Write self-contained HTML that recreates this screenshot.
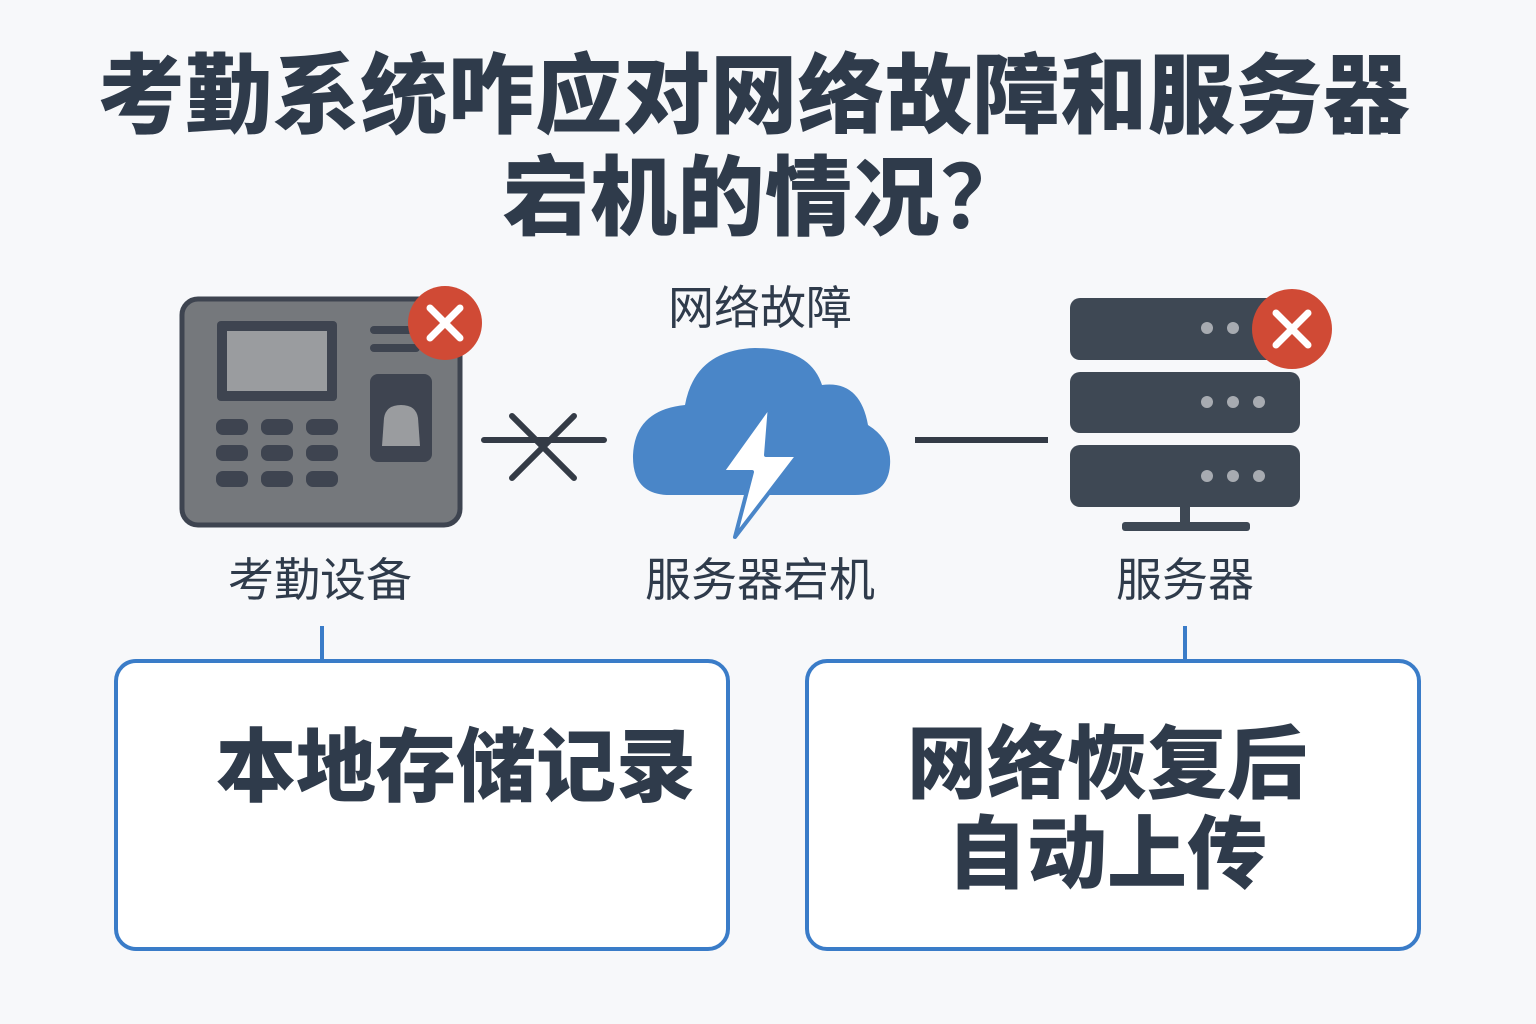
<!DOCTYPE html>
<html><head><meta charset="utf-8"><style>
body{margin:0;background:#f7f8fa;}
.wrap{position:relative;width:1536px;height:1024px;overflow:hidden;background:#f7f8fa;font-family:"Liberation Sans","Noto Sans CJK SC",sans-serif;color:#2f3b4b;}
.t{position:absolute;white-space:nowrap;text-align:center;}
.title{font-weight:900;font-size:87px;line-height:1;letter-spacing:0.5px;}
.lab{font-size:46px;line-height:1;color:#2f3b4b;}
.big{font-weight:900;font-size:80px;line-height:1;}
</style></head><body><div class="wrap">
<div class="t title" style="left:0;width:1508px;top:53px;">考勤系统咋应对网络故障和服务器</div>
<div class="t title" style="left:0;width:1530px;top:148px;">宕机的情况<span style="font-family:'Noto Sans CJK SC',sans-serif;font-weight:700;">？</span></div>

<svg width="1536" height="1024" style="position:absolute;left:0;top:0">
 <rect x="182" y="299" width="278" height="226" rx="16" fill="#75787c" stroke="#3e4450" stroke-width="5"/>
 <rect x="217" y="321" width="120" height="80" rx="4" fill="#3e4450"/>
 <rect x="227" y="331" width="100" height="60" fill="#9a9c9f"/>
 <rect x="370" y="326" width="50" height="8" rx="4" fill="#3e4450"/>
 <rect x="370" y="344" width="50" height="8" rx="4" fill="#3e4450"/>
 <rect x="370" y="374" width="62" height="88" rx="8" fill="#3e4450"/>
 <path d="M382 446 L384 418 Q386 405 401 405 Q416 405 418 418 L420 446 Z" fill="#9a9c9f"/>
 <g fill="#3e4450">
  <rect x="216" y="419" width="32" height="16" rx="7"/><rect x="261" y="419" width="32" height="16" rx="7"/><rect x="306" y="419" width="32" height="16" rx="7"/>
  <rect x="216" y="445" width="32" height="16" rx="7"/><rect x="261" y="445" width="32" height="16" rx="7"/><rect x="306" y="445" width="32" height="16" rx="7"/>
  <rect x="216" y="471" width="32" height="16" rx="7"/><rect x="261" y="471" width="32" height="16" rx="7"/><rect x="306" y="471" width="32" height="16" rx="7"/>
 </g>
 <circle cx="445" cy="323" r="37" fill="#d04a35"/>
 <path d="M430 308 L460 338 M460 308 L430 338" stroke="#fff" stroke-width="7" stroke-linecap="round"/>
 <path d="M484 440 L604 440 M512 416 L574 478 M574 416 L512 478" stroke="#343b46" stroke-width="6" stroke-linecap="round"/>
 <path d="M670 495 Q632 495 633 455 Q635 410 685 405 Q695 350 755 348 Q810 348 822 385 Q860 380 868 425 Q892 440 890 465 Q888 495 855 495 Z" fill="#4a86c8"/>
 <path d="M770 405 L722 472 L752 472 L735 537 L798 455 L766 455 Z" fill="#fff" stroke="#4a86c8" stroke-width="4" stroke-linejoin="round"/>
 <path d="M915 440 L1048 440" stroke="#343b46" stroke-width="6"/>
 <g fill="#3e4854">
  <rect x="1070" y="298" width="230" height="62" rx="10"/>
  <rect x="1070" y="372" width="230" height="61" rx="10"/>
  <rect x="1070" y="445" width="230" height="62" rx="10"/>
  <rect x="1180" y="505" width="10" height="20"/>
  <rect x="1122" y="522" width="128" height="9" rx="3"/>
 </g>
 <g fill="#a7abb1">
  <circle cx="1207" cy="328" r="6"/><circle cx="1233" cy="328" r="6"/>
  <circle cx="1207" cy="402" r="6"/><circle cx="1233" cy="402" r="6"/><circle cx="1259" cy="402" r="6"/>
  <circle cx="1207" cy="476" r="6"/><circle cx="1233" cy="476" r="6"/><circle cx="1259" cy="476" r="6"/>
 </g>
 <circle cx="1292" cy="329" r="40" fill="#d04a35"/>
 <path d="M1276 313 L1308 345 M1308 313 L1276 345" stroke="#fff" stroke-width="7" stroke-linecap="round"/>
 <path d="M322 626 L322 660 M1185 626 L1185 660" stroke="#3a7cc8" stroke-width="4"/>
 <rect x="116" y="661" width="612" height="288" rx="20" fill="#fff" stroke="#3a7cc8" stroke-width="4"/>
 <rect x="807" y="661" width="612" height="288" rx="20" fill="#fff" stroke="#3a7cc8" stroke-width="4"/>
</svg>

<div class="t lab" style="left:560px;width:400px;top:285px;">网络故障</div>
<div class="t lab" style="left:120px;width:400px;top:557px;">考勤设备</div>
<div class="t lab" style="left:560px;width:400px;top:557px;">服务器宕机</div>
<div class="t lab" style="left:985px;width:400px;top:557px;">服务器</div>
<div class="t big" style="left:116px;width:680px;top:728px;">本地存储记录</div>
<div class="t big" style="left:807px;width:600px;top:725px;">网络恢复后</div>
<div class="t big" style="left:807px;width:600px;top:815px;">自动上传</div>
</div></body></html>
